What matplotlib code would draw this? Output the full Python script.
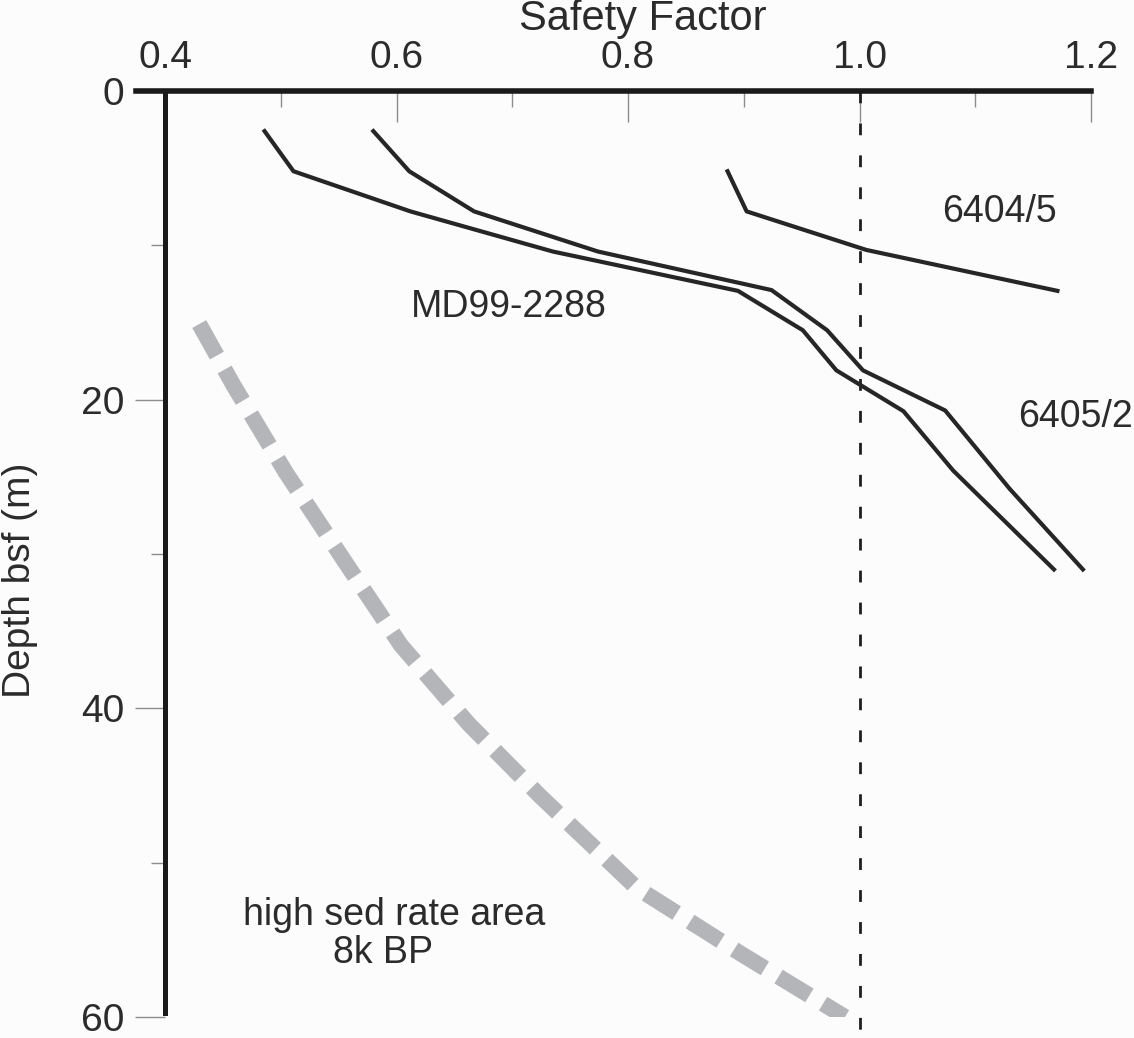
import matplotlib
matplotlib.use("Agg")
import matplotlib.pyplot as plt
from matplotlib.ticker import FixedLocator

plt.rcParams['font.family'] = ['Liberation Sans', 'DejaVu Sans']
plt.rcParams['lines.scale_dashes'] = False

# ---- data ----
md99_sf = [0.486, 0.511, 0.612, 0.735, 0.895, 0.951, 0.980, 1.038, 1.081, 1.168]
md99_depth = [2.6, 5.2, 7.8, 10.4, 12.95, 15.5, 18.1, 20.75, 24.6, 31.0]

s6405_sf = [0.580, 0.611, 0.667, 0.774, 0.924, 0.972, 1.003, 1.074, 1.130, 1.193]
s6405_depth = [2.6, 5.2, 7.8, 10.4, 12.9, 15.5, 18.1, 20.7, 25.8, 31.0]

s6404_sf = [0.886, 0.9025, 1.006, 1.171]
s6404_depth = [5.2, 7.8, 10.3, 12.95]

hsr_sf = [0.4296, 0.459, 0.5044, 0.554, 0.6037, 0.662, 0.724, 0.8069, 0.8975, 0.9875]
hsr_depth = [15.1, 19.05, 24.72, 30.34, 35.9, 40.98, 45.68, 51.6, 55.9, 60.0]

ref_sf = [1.0, 1.0]
ref_depth = [0.0, 61.5]

x_major = [0.4, 0.6, 0.8, 1.0, 1.2]
x_minor = [0.5, 0.7, 0.9, 1.1]
x_labels = ['0.4', '0.6', '0.8', '1.0', '1.2']
y_major = [0, 20, 40, 60]
y_minor = [10, 30, 50]

W, H = 1134, 1038
fig = plt.figure(figsize=(W / 100, H / 100), dpi=100, facecolor='#fcfcfd')
ax = fig.add_axes([165 / W, 1 - 1017 / H, 926 / W, 926 / H])
ax.set_facecolor('none')

line_c = '#262626'
text_c = '#2b2b2b'
tick_c = '#8c8c8c'

ax.plot(ref_sf, ref_depth, color='#1e1e1e', lw=2.0, dashes=(8.5, 14.5), clip_on=False, zorder=2)
ax.plot(hsr_sf, hsr_depth, color='#b4b5b9', lw=11.5, dashes=(26, 11.5),
        solid_capstyle='butt', dash_capstyle='butt', zorder=1)
ax.plot(md99_sf, md99_depth, color=line_c, lw=3.0, zorder=3)
ax.plot(s6405_sf, s6405_depth, color=line_c, lw=3.0, zorder=3)
ax.plot(s6404_sf, s6404_depth, color=line_c, lw=3.0, zorder=3)

ax.set_xlim(0.4, 1.2)
ax.set_ylim(60, 0)

for s in ['right', 'bottom']:
    ax.spines[s].set_visible(False)
ax.spines['top'].set_linewidth(4)
ax.spines['top'].set_color('#1a1a1a')
ax.spines['top'].set_bounds(0.375, 1.2)
ax.spines['left'].set_linewidth(3.6)
ax.spines['left'].set_color('#1a1a1a')
ax.spines['left'].set_bounds(0, 59.75)

ax.xaxis.tick_top()
ax.xaxis.set_major_locator(FixedLocator(x_major))
ax.xaxis.set_minor_locator(FixedLocator(x_minor))
ax.set_xticklabels(x_labels)
ax.yaxis.set_major_locator(FixedLocator(y_major))
ax.yaxis.set_minor_locator(FixedLocator(y_minor))

ax.tick_params(axis='x', which='major', direction='in', length=22, width=1, color=tick_c,
               labelsize=28, labelcolor=text_c, pad=11)
ax.tick_params(axis='x', which='minor', direction='in', length=11.5, width=1, color=tick_c)
ax.tick_params(axis='y', which='major', direction='out', length=21.5, width=1, color=tick_c,
               labelsize=28, labelcolor=text_c, pad=8)
ax.tick_params(axis='y', which='minor', direction='out', length=10, width=1, color=tick_c)

ax.set_xlabel('Safety Factor', fontsize=30, color=text_c, va='baseline')
ax.xaxis.set_label_position('top')
ax.xaxis.set_label_coords(0.516, (1017 - 30) / 926)
ax.set_ylabel('Depth bsf (m)', fontsize=28, color=text_c, va='center')
ax.yaxis.set_label_coords(-0.1566, 0.472)

kw = dict(fontsize=27, color=text_c, ha='left', va='baseline')
ax.text(0.6123, 14.63, 'MD99-2288', **kw)
ax.text(1.071, 8.47, '6404/5', **kw)
ax.text(1.137, 21.76, '6405/2', clip_on=False, **kw)
ax.text(0.4674, 54.05, 'high sed rate area', **kw)
ax.text(0.5451, 56.49, '8k BP', **kw)

fig.savefig('out.png', dpi=100, facecolor=fig.get_facecolor())
